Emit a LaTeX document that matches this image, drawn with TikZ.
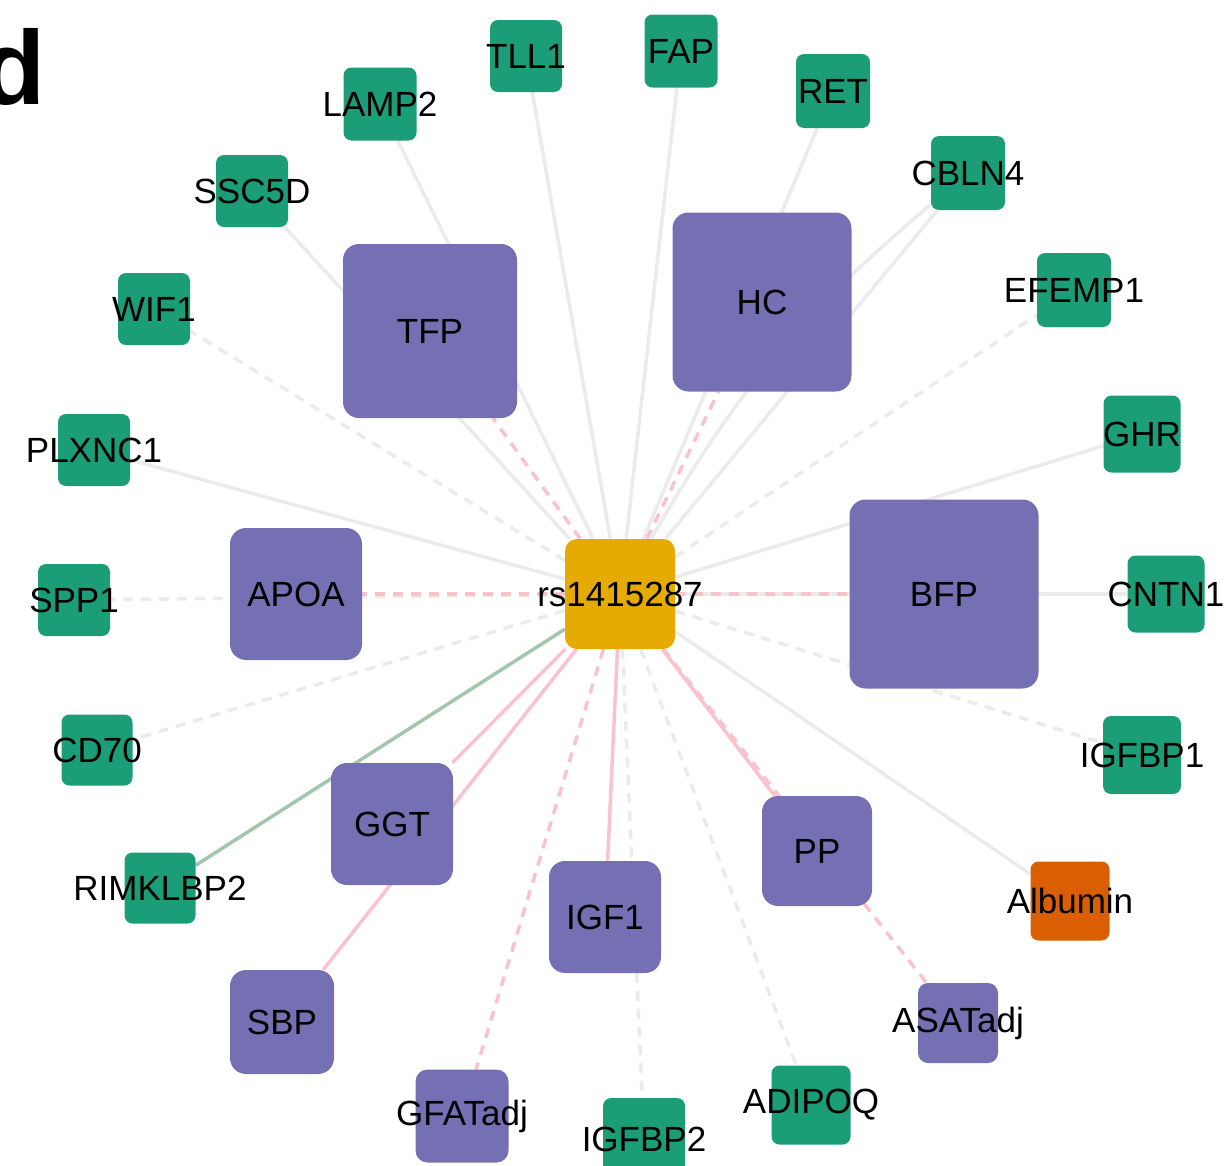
\documentclass[tikz,border=0pt]{standalone}
\usepackage{fontspec}
\setmainfont{Liberation Sans}
\usetikzlibrary{backgrounds}
\definecolor{cgene}{HTML}{1B9E77}
\definecolor{ctrait}{HTML}{7570B3}
\definecolor{csnp}{HTML}{E6AB02}
\definecolor{calb}{HTML}{D95F02}
\definecolor{cgray}{HTML}{EBEBEB}
\definecolor{cpink}{HTML}{F9C3CE}
\definecolor{csage}{HTML}{A3C6AF}
\begin{document}
\begin{tikzpicture}[x=1pt, y=-1pt,
  gene/.style={rectangle, rounded corners=8pt, fill=cgene, inner sep=0pt, minimum size=#1},
  trait/.style={rectangle, rounded corners=16pt, fill=ctrait, inner sep=0pt, minimum size=#1},
  every label/.style={font=\fontsize{35}{42}\selectfont, inner sep=0pt},
  gr/.style={cgray, line width=3.5pt},
  grd/.style={cgray, line width=3.5pt, dash pattern=on 10pt off 8pt},
  pk/.style={cpink, line width=3.5pt},
  pkd/.style={cpink, line width=3.5pt, dash pattern=on 10pt off 8pt},
  sg/.style={csage, line width=3.5pt}]
\useasboundingbox (0,0) rectangle (1226,1165);
\node[anchor=base east, inner sep=0pt, font=\fontsize{105}{110}\selectfont\bfseries] (d) at (46,104) {d};

\node[rectangle, rounded corners=12pt, fill=csnp, inner sep=0pt, minimum size=110pt, label=center:rs1415287] (rs) at (620,594) {};

\node[trait=174, label=center:TFP] (tfp) at (430,331) {};
\node[trait=179, label=center:HC] (hc) at (762,302) {};
\node[trait=132, label=center:APOA] (apoa) at (296,594) {};
\node[trait=189, label=center:BFP] (bfp) at (944,594) {};
\node[trait=122, label=center:GGT] (ggt) at (392,824) {};
\node[trait=110, label=center:PP] (pp) at (817,851) {};
\node[trait=112, label=center:IGF1] (igf1) at (605,917) {};
\node[trait=104, label=center:SBP] (sbp) at (282,1022) {};
\node[trait=80, rounded corners=10pt, label=center:ASATadj] (asat) at (958,1023) {};
\node[trait=93, rounded corners=12pt, label=center:GFATadj] (gfat) at (462,1116) {};

\node[gene=73, label=center:LAMP2] (lamp2) at (380,104) {};
\node[gene=72, label=center:TLL1] (tll1) at (526,56) {};
\node[gene=73, label=center:FAP] (fap) at (681,51) {};
\node[gene=74, label=center:RET] (ret) at (833,91) {};
\node[gene=72, label=center:SSC5D] (ssc5d) at (252,191) {};
\node[gene=74, label=center:CBLN4] (cbln4) at (968,173) {};
\node[gene=72, label=center:WIF1] (wif1) at (154,309) {};
\node[gene=74, label=center:EFEMP1] (efemp1) at (1074,290) {};
\node[gene=72, label=center:PLXNC1] (plxnc1) at (94,450) {};
\node[gene=77, label=center:GHR] (ghr) at (1142,434) {};
\node[gene=72, label=center:SPP1] (spp1) at (74,600) {};
\node[gene=77, label=center:CNTN1] (cntn1) at (1166,594) {};
\node[gene=71, label=center:CD70] (cd70) at (97,750) {};
\node[gene=78, label=center:IGFBP1] (igfbp1) at (1142,755) {};
\node[gene=71, label=center:RIMKLBP2] (rimk) at (160,888) {};
\node[gene=82, label=center:IGFBP2] (igfbp2) at (644,1139) {};
\node[gene=79, label=center:ADIPOQ] (adipoq) at (811,1105) {};
\node[gene=79, fill=calb, label=center:Albumin] (alb) at (1070,901) {};

\begin{scope}[on background layer]
\draw[gr] (rs) -- (lamp2);
\draw[gr] (rs) -- (ssc5d);
\draw[gr] (rs) -- (tll1);
\draw[gr] (rs) -- (fap);
\draw[gr] (rs) -- (ret);
\draw[gr] (rs) -- (cbln4);
\draw[gr] (rs) to[bend left=10] (cbln4);
\draw[gr] (rs) -- (ghr);
\draw[gr] (rs) -- (cntn1);
\draw[gr] (rs) -- (plxnc1);
\draw[gr] (rs) -- (alb);
\draw[grd] (rs) -- (wif1);
\draw[grd] (rs) -- (efemp1);
\draw[grd] (rs) -- (spp1);
\draw[grd] (rs) -- (cd70);
\draw[grd] (rs) -- (igfbp1);
\draw[grd] (rs) -- (igfbp2);
\draw[grd] (rs) -- (adipoq);
\draw[pk] (rs) -- (ggt);
\draw[pk] (rs) -- (sbp);
\draw[pk] (rs) -- (igf1);
\draw[pk] (rs) -- (pp);
\draw[pkd] (rs) -- (tfp);
\draw[pkd] (rs) -- (hc);
\draw[pkd] (rs) -- (apoa);
\draw[pkd] (rs) -- (bfp);
\draw[pkd] (rs) -- (gfat);
\draw[pkd] (rs) -- (asat);
\draw[sg] (rs) -- (rimk);
\end{scope}
\end{tikzpicture}
\end{document}
